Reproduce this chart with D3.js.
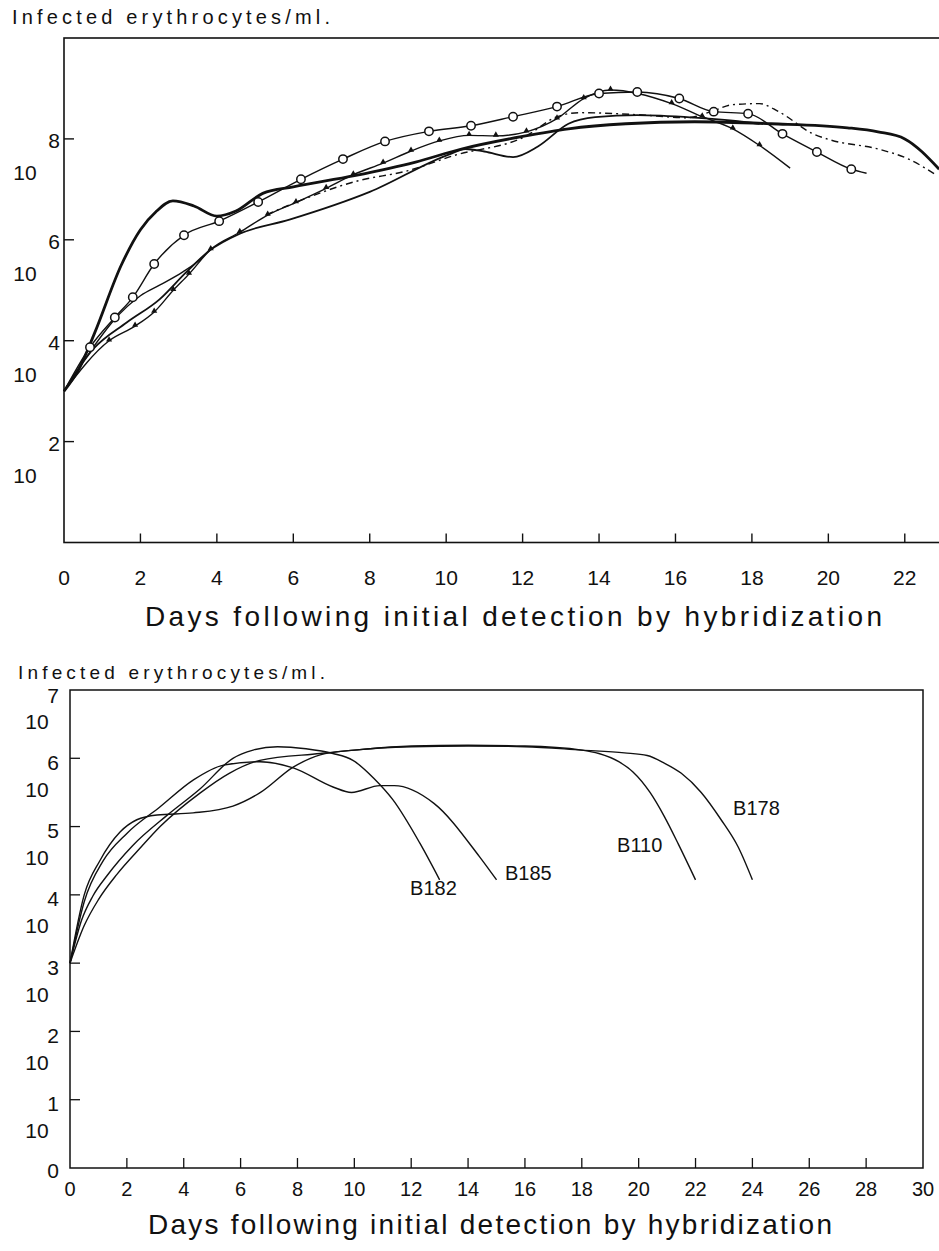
<!DOCTYPE html>
<html>
<head>
<meta charset="utf-8">
<script src="https://cdn.jsdelivr.net/npm/d3@7"></script>
<style>
  body { margin: 0; background: #fff; }
  text { font-family: "Liberation Sans", Arial, sans-serif; fill: #111; }
</style>
</head>
<body>
<script>
// ---- top panel data (day, log10 infected erythrocytes/ml) ----
const topXTicks = [2, 4, 6, 8, 10, 12, 14, 16, 18, 20, 22];
const topXLabels = [0, 2, 4, 6, 8, 10, 12, 14, 16, 18, 20, 22];
const topYTicks = [2, 4, 6, 8];

const thickSeries = [[0,3],[0.4,3.45],[0.8,4.15],[1.5,5.5],[2,6.2],[2.4,6.55],[2.85,6.77],[3.4,6.67],[4,6.47],[4.5,6.57],[5.2,6.92],[6,7.05],[7.6,7.27],[9.2,7.54],[10.4,7.8],[12,8.05],[13.2,8.2],[14.7,8.3],[16.5,8.34],[18.5,8.3],[20.5,8.22],[21.3,8.14],[22,8.0],[22.9,7.4]];
const lowerSeries = [[0,3],[0.76,3.83],[1.64,4.36],[2.5,4.82],[3.2,5.36],[3.8,5.78],[4.6,6.12],[5.9,6.4],[8,6.95],[10.1,7.7],[10.5,7.8],[11,7.75],[11.75,7.64],[12.4,7.85],[13.2,8.3],[13.9,8.43],[15,8.47],[16.5,8.42],[17.5,8.36],[18.2,8.3]];
const midSeries = [[0,3],[0.7,3.8],[1.3,4.4],[2,4.89],[2.5,5.1],[3.1,5.36],[3.56,5.61],[3.8,5.8]];
const circleMarks = [[0.68,3.87],[1.33,4.46],[1.8,4.86],[2.36,5.52],[3.14,6.09],[4.06,6.37],[5.08,6.75],[6.2,7.2],[7.3,7.6],[8.4,7.95],[9.55,8.15],[10.65,8.26],[11.75,8.44],[12.9,8.64],[14,8.9],[15,8.93],[16.1,8.8],[17,8.54],[17.9,8.5],[18.8,8.1],[19.7,7.74],[20.6,7.4]];
const circleEnds = [[0,3],[21,7.32]];
const triMarks = [[1.18,4.0],[1.86,4.29],[2.36,4.57],[2.86,5.0],[3.27,5.32],[3.84,5.81],[4.6,6.15],[5.33,6.49],[6.07,6.74],[6.86,7.02],[7.57,7.29],[8.35,7.52],[9.08,7.76],[9.82,7.96],[10.6,8.07],[11.3,8.06],[12.1,8.14],[12.9,8.4],[13.6,8.8],[14.3,8.97],[15.9,8.7],[16.7,8.44],[17.5,8.2],[18.2,7.87]];
const triEnds = [[0,3],[19,7.42]];
const dashSeries = [[5.3,6.5],[7.7,7.17],[9,7.37],[10.2,7.67],[12.1,8.06],[12.9,8.44],[13.5,8.52],[15,8.48],[16.3,8.42],[17,8.56],[17.5,8.68],[18.2,8.7],[18.7,8.54],[19.6,8.1],[20.05,7.98],[21.3,7.8],[22.1,7.6],[22.85,7.27]];

// ---- bottom panel data ----
const botXTicks = [2, 4, 6, 8, 10, 12, 14, 16, 18, 20, 22, 24, 26, 28];
const botXLabels = [0, 2, 4, 6, 8, 10, 12, 14, 16, 18, 20, 22, 24, 26, 28, 30];
const botYTicks = [1, 2, 3, 4, 5, 6];
const botYLabels = [0, 1, 2, 3, 4, 5, 6, 7];

const strains = ['B182', 'B185', 'B110', 'B178'];
const b182 = [[0,3],[0.4,3.62],[0.8,3.98],[1.3,4.28],[2.2,4.72],[3.4,5.16],[4.57,5.55],[5.73,6.0],[6.44,6.12],[7.3,6.17],[8.3,6.14],[9.25,6.07],[9.95,5.97],[10.7,5.7],[11.36,5.39],[12.3,4.76],[13,4.22]];
const b185 = [[0,3],[0.5,3.9],[1.17,4.5],[2,4.9],[3.17,5.29],[4.33,5.68],[5.4,5.9],[6.68,5.95],[7.85,5.86],[9.25,5.58],[9.9,5.5],[10.9,5.6],[11.4,5.6],[12.8,5.34],[14.4,4.56],[15,4.22]];
const b110 = [[0,3],[0.5,3.55],[1,3.93],[1.65,4.3],[2.5,4.7],[3.17,5.0],[4.57,5.49],[5.6,5.78],[6.68,5.97],[8.8,6.07],[10,6.12],[12,6.18],[14,6.19],[16,6.18],[18,6.12],[18.6,6.07],[19.3,5.95],[19.8,5.8],[20.4,5.5],[20.9,5.15],[21.4,4.74],[22,4.22]];
const b178 = [[0,3],[0.5,4.0],[1.05,4.5],[1.76,4.92],[2.35,5.1],[3.06,5.17],[4.33,5.2],[5.73,5.3],[6.7,5.5],[7.85,5.87],[8.8,6.05],[10,6.12],[12,6.17],[14,6.18],[16,6.17],[18,6.12],[19.5,6.08],[20.3,6.04],[20.9,5.93],[21.5,5.78],[22.2,5.5],[22.9,5.1],[23.5,4.7],[24,4.22]];
const strainLabelPos = [[11.96,4.0],[15.3,4.22],[19.24,4.63],[23.32,5.17]];

const svg = d3.select('body').append('svg')
  .attr('width', 939).attr('height', 1251);

// SCALES
const tx = d3.scaleLinear().domain([0, 23]).range([64, 943]);
const ty = d3.scaleLinear().domain([0, 10]).range([542.5, 38]);
const bx = d3.scaleLinear().domain([0, 30]).range([70, 923]);
const by = d3.scaleLinear().domain([0, 7]).range([1168, 690]);

const lineOf = (x, y) => d3.line().x(d => x(d[0])).y(d => y(d[1])).curve(d3.curveMonotoneX);

// ---------- TOP PANEL ----------
const topG = svg.append('g');
topG.append('rect')
  .attr('x', tx(0)).attr('y', ty(10))
  .attr('width', tx(23) - tx(0)).attr('height', ty(0) - ty(10))
  .attr('fill', 'none').attr('stroke', '#111').attr('stroke-width', 1.6);

topG.selectAll('line.xt').data(topXTicks).join('line')
  .attr('x1', d => tx(d)).attr('x2', d => tx(d))
  .attr('y1', ty(0)).attr('y2', ty(0) - 9)
  .attr('stroke', '#111').attr('stroke-width', 1.4);
topG.selectAll('text.xl').data(topXLabels).join('text')
  .attr('x', d => tx(d)).attr('y', 577)
  .attr('text-anchor', 'middle').attr('dominant-baseline', 'central')
  .attr('font-size', 21).text(d => d);

topG.selectAll('line.yt').data(topYTicks).join('line')
  .attr('x1', tx(0)).attr('x2', tx(0) + 10)
  .attr('y1', d => ty(d)).attr('y2', d => ty(d))
  .attr('stroke', '#111').attr('stroke-width', 1.4);
topG.selectAll('text.ye').data(topYTicks).join('text')
  .attr('x', 54).attr('y', d => ty(d) + 2)
  .attr('text-anchor', 'middle').attr('dominant-baseline', 'central')
  .attr('font-size', 21).text(d => d);
topG.selectAll('text.yb').data(topYTicks).join('text')
  .attr('x', 25).attr('y', d => ty(d) + 34)
  .attr('text-anchor', 'middle').attr('dominant-baseline', 'central')
  .attr('font-size', 21).text('10');

topG.append('text').attr('x', 12).attr('y', 24)
  .attr('font-size', 20).attr('textLength', 318).attr('lengthAdjust', 'spacing')
  .text('Infected erythrocytes/ml.');
topG.append('text').attr('x', 145).attr('y', 626)
  .attr('font-size', 28).attr('textLength', 737).attr('lengthAdjust', 'spacing')
  .text('Days following initial detection by hybridization');

const tline = lineOf(tx, ty);
topG.append('path').attr('d', tline(thickSeries))
  .attr('fill', 'none').attr('stroke', '#111').attr('stroke-width', 2.8);
topG.append('path').attr('d', tline(lowerSeries))
  .attr('fill', 'none').attr('stroke', '#111').attr('stroke-width', 1.8);
topG.append('path').attr('d', tline(midSeries))
  .attr('fill', 'none').attr('stroke', '#111').attr('stroke-width', 1.4);
topG.append('path').attr('d', tline(dashSeries))
  .attr('fill', 'none').attr('stroke', '#111').attr('stroke-width', 1.4)
  .attr('stroke-dasharray', '7,4,2,4');
topG.append('path').attr('d', tline([triEnds[0], ...triMarks, triEnds[1]]))
  .attr('fill', 'none').attr('stroke', '#111').attr('stroke-width', 1.4);
topG.append('path').attr('d', tline([circleEnds[0], ...circleMarks, circleEnds[1]]))
  .attr('fill', 'none').attr('stroke', '#111').attr('stroke-width', 1.4);

topG.selectAll('path.tri').data(triMarks).join('path')
  .attr('d', d3.symbol(d3.symbolTriangle, 16))
  .attr('transform', d => `translate(${tx(d[0])},${ty(d[1]) - 1})`)
  .attr('fill', '#111');
topG.selectAll('circle.mk').data(circleMarks).join('circle')
  .attr('cx', d => tx(d[0])).attr('cy', d => ty(d[1])).attr('r', 4.2)
  .attr('fill', '#fff').attr('stroke', '#111').attr('stroke-width', 1.5);

// ---------- BOTTOM PANEL ----------
const botG = svg.append('g');
botG.append('rect')
  .attr('x', bx(0)).attr('y', by(7))
  .attr('width', bx(30) - bx(0)).attr('height', by(0) - by(7))
  .attr('fill', 'none').attr('stroke', '#111').attr('stroke-width', 1.5);

botG.selectAll('line.xt').data(botXTicks).join('line')
  .attr('x1', d => bx(d)).attr('x2', d => bx(d))
  .attr('y1', by(0)).attr('y2', by(0) - 10)
  .attr('stroke', '#111').attr('stroke-width', 1.3);
botG.selectAll('text.xl').data(botXLabels).join('text')
  .attr('x', d => bx(d)).attr('y', 1189)
  .attr('text-anchor', 'middle').attr('dominant-baseline', 'central')
  .attr('font-size', 20).text(d => d);

botG.selectAll('line.yt').data(botYTicks).join('line')
  .attr('x1', bx(0)).attr('x2', bx(0) + 10)
  .attr('y1', d => by(d)).attr('y2', d => by(d))
  .attr('stroke', '#111').attr('stroke-width', 1.3);
botG.selectAll('text.ye').data(botYLabels).join('text')
  .attr('x', 53).attr('y', d => by(d) + (d === 0 ? 2 : d === 7 ? 5 : 4))
  .attr('text-anchor', 'middle').attr('dominant-baseline', 'central')
  .attr('font-size', 21).text(d => d);
botG.selectAll('text.yb').data(botYLabels.filter(d => d > 0)).join('text')
  .attr('x', 37).attr('y', d => by(d) + 31)
  .attr('text-anchor', 'middle').attr('dominant-baseline', 'central')
  .attr('font-size', 21).text('10');

botG.append('text').attr('x', 18).attr('y', 679)
  .attr('font-size', 19).attr('textLength', 307).attr('lengthAdjust', 'spacing')
  .text('Infected erythrocytes/ml.');
botG.append('text').attr('x', 148).attr('y', 1234)
  .attr('font-size', 28).attr('textLength', 684).attr('lengthAdjust', 'spacing')
  .text('Days following initial detection by hybridization');

const bline = lineOf(bx, by);
[b182, b185, b110, b178].forEach(s => {
  botG.append('path').attr('d', bline(s))
    .attr('fill', 'none').attr('stroke', '#111').attr('stroke-width', 1.4);
});
botG.selectAll('text.strain').data(strains).join('text')
  .attr('x', (d, i) => bx(strainLabelPos[i][0]))
  .attr('y', (d, i) => by(strainLabelPos[i][1]))
  .attr('font-size', 20).text(d => d);
</script>
</body>
</html>
